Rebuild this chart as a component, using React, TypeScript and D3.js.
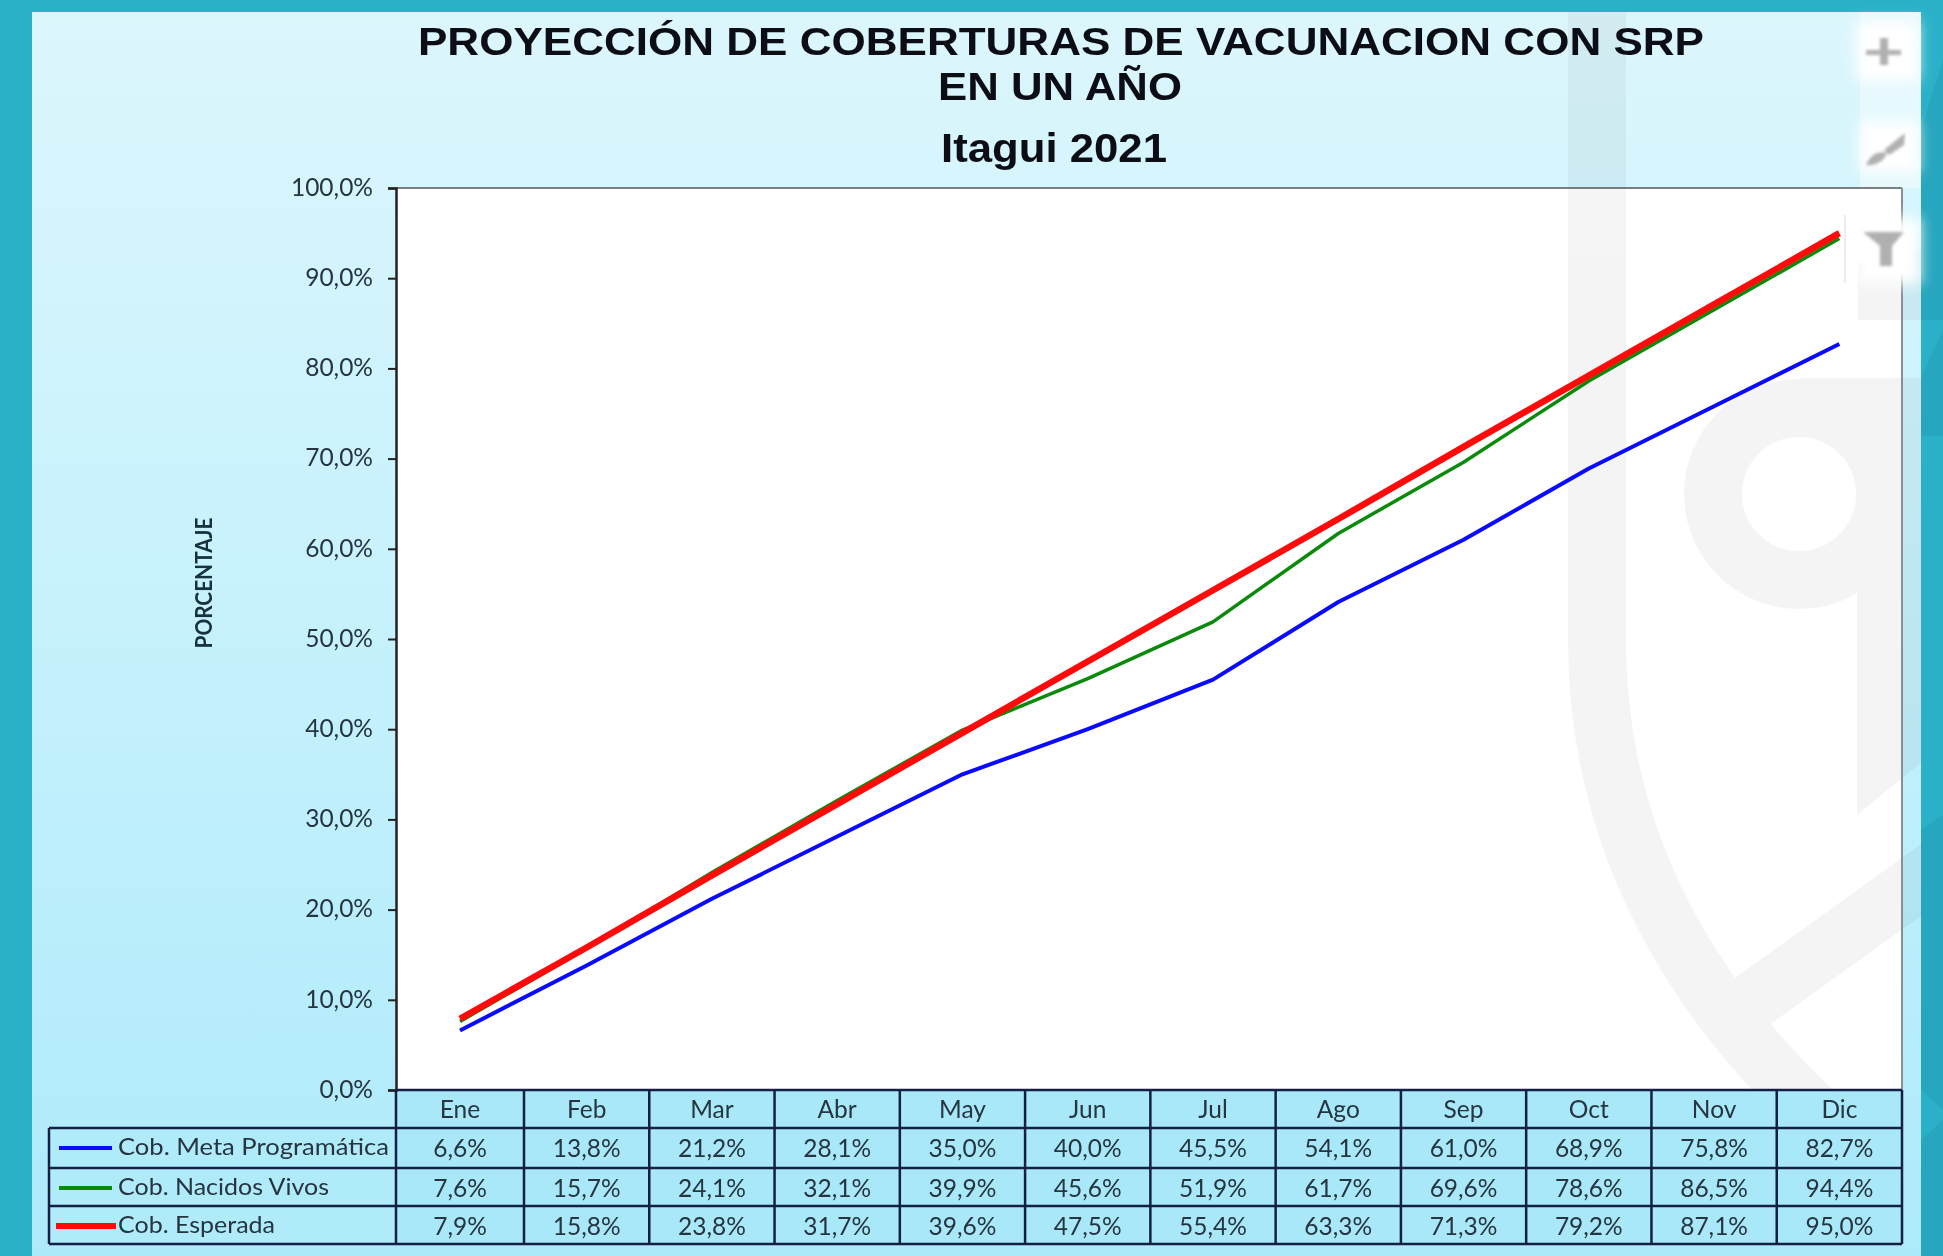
import React, { useEffect, useRef } from "react";
import * as d3 from "d3";

const months = ["Ene", "Feb", "Mar", "Abr", "May", "Jun", "Jul", "Ago", "Sep", "Oct", "Nov", "Dic"];
const yTicks = [0, 10, 20, 30, 40, 50, 60, 70, 80, 90, 100];

const metaProgramatica = [6.6, 13.8, 21.2, 28.1, 35.0, 40.0, 45.5, 54.1, 61.0, 68.9, 75.8, 82.7];
const nacidosVivos = [7.6, 15.7, 24.1, 32.1, 39.9, 45.6, 51.9, 61.7, 69.6, 78.6, 86.5, 94.4];
const esperada = [7.9, 15.8, 23.8, 31.7, 39.6, 47.5, 55.4, 63.3, 71.3, 79.2, 87.1, 95.0];

const seriesNames = ["Cob. Meta Programática", "Cob. Nacidos Vivos", "Cob. Esperada"];
const seriesValues = [metaProgramatica, nacidosVivos, esperada];
const seriesColors = ["#0a0aff", "#0a8a0a", "#ff0a0a"];
const seriesWidths = [4, 3.5, 6.5];
const labelLengths = [271, 211, 157];

const W = 1943;
const H = 1256;
const plot = { left: 396, right: 1902, top: 188, bottom: 1090 };
const rowEdges = [1090, 1128, 1168, 1206, 1244];
const legendLeft = 49;
const FONT = "Lato, 'Open Sans', sans-serif";
const TEXT = "#25343f";
const LINE = "#141f45";

const fmt = (v: number) => v.toFixed(1).replace(".", ",") + "%";

const App = () => {
  const axisRef = useRef<SVGGElement>(null);

  // la primera columna de la tabla es un poco mas ancha que las demas
  const edge = d3.scaleLinear().domain([0, 1, months.length]).range([plot.left, 524, plot.right]);
  const center = (i: number) => (edge(i) + edge(i + 1)) / 2;
  const y = d3.scaleLinear().domain([0, 100]).range([plot.bottom, plot.top]);
  const line = d3
    .line<number>()
    .x((_, i) => center(i))
    .y((d) => y(d));

  useEffect(() => {
    const g = d3.select(axisRef.current);
    g.selectAll("*").remove();
    g.call(
      d3
        .axisLeft(y)
        .tickValues(yTicks)
        .tickSize(8)
        .tickPadding(15)
        .tickFormat((d) => fmt(d as number)) as any
    );
    g.selectAll("text")
      .attr("font-family", FONT)
      .attr("font-size", 24.5)
      .attr("fill", TEXT)
      .attr("dy", "0.3em")
      .attr("filter", "url(#textBlur)");
    g.selectAll("line").attr("stroke", "#222").attr("stroke-width", 2);
    g.select(".domain").attr("stroke", "#222").attr("stroke-width", 2.5);
  }, []);

  return (
    <div style={{ position: "fixed", left: 0, top: 0, width: W, height: H }}>
      <svg width={W} height={H} viewBox={`0 0 ${W} ${H}`} style={{ display: "block" }}>
        <defs>
          <linearGradient id="panelBg" x1="0" y1="0" x2="0" y2="1">
            <stop offset="0" stopColor="#dcf6fc" />
            <stop offset="0.45" stopColor="#c8f2fd" />
            <stop offset="1" stopColor="#aeeafa" />
          </linearGradient>
          <clipPath id="markClip">
            <rect x={32} y={12} width={1889} height={1078} />
          </clipPath>
          <filter id="soft" x="-30%" y="-30%" width="160%" height="160%">
            <feGaussianBlur stdDeviation="7" />
          </filter>
          <filter id="iconBlur">
            <feGaussianBlur stdDeviation="1.6" />
          </filter>
          <filter id="textBlur" x="-5%" y="-20%" width="110%" height="140%">
            <feGaussianBlur stdDeviation="0.55" />
          </filter>
        </defs>

        {/* marco y fondo */}
        <rect width={W} height={H} fill="#2ab1c9" />
        <path d="M1921,378 L1943,330 L1943,436 L1921,436 Z" fill="#26a6bf" />
        <path d="M1921,130 L1943,60 L1943,320 L1921,320 Z" fill="#26a6bf" />
        <path d="M1921,1140 L1943,1120 L1943,1256 L1921,1256 Z" fill="#26a6bf" />
        <path d="M1921,830 L1943,815 L1943,1110 L1921,1090 Z" fill="#26a6bf" />
        <rect x={32} y={12} width={1889} height={1244} fill="url(#panelBg)" />
        <rect x={1860} y={12} width={61} height={176} fill="#f0fbfe" opacity={0.6} />

        {/* area del grafico */}
        <rect
          x={plot.left}
          y={plot.top}
          width={plot.right - plot.left}
          height={plot.bottom - plot.top}
          fill="#ffffff"
        />

        {/* marca de agua */}
        <g opacity={0.04} clipPath="url(#markClip)">
          <g fill="none" stroke="#000">
            <path d="M1597,12 L1597,640 C1597,850 1700,1040 1921,1200" strokeWidth={58} />
            <circle cx={1799} cy={494} r={86} strokeWidth={58} />
          </g>
          <path d="M1799,378 H1921 V763 L1857,815 V440 Z" fill="#000" />
          <path d="M1700,1003 L1921,844 L1921,916 L1740,1046 Z" fill="#000" />
          <path d="M1858,262 L1921,248 L1921,320 L1858,320 Z" fill="#000" />
        </g>

        <rect x={plot.left} y={rowEdges[0]} width={plot.right - plot.left} height={rowEdges[4] - rowEdges[0]} fill="#a8e8f8" />
        <rect x={legendLeft} y={rowEdges[1]} width={plot.left - legendLeft} height={rowEdges[4] - rowEdges[1]} fill="#b0ebfa" />

        {/* borde del area */}
        <line x1={plot.left} x2={plot.right} y1={plot.top} y2={plot.top} stroke="#555" strokeWidth={1.5} />
        <line x1={plot.right} x2={plot.right} y1={plot.top} y2={plot.bottom} stroke="#8a8f94" strokeWidth={2} />

        {/* series */}
        {seriesValues.map((vals, i) => (
          <path
            key={seriesNames[i]}
            d={line(vals) as string}
            fill="none"
            stroke={seriesColors[i]}
            strokeWidth={seriesWidths[i]}
            strokeLinejoin="round"
          />
        ))}

        <g ref={axisRef} transform={`translate(${plot.left},0)`} />

        {/* tabla de datos */}
        <g stroke={LINE} strokeWidth={2.5}>
          {rowEdges.map((ry, i) => (
            <line key={ry} x1={i === 0 ? plot.left : legendLeft} x2={plot.right} y1={ry} y2={ry} />
          ))}
          <line x1={legendLeft} x2={legendLeft} y1={rowEdges[1]} y2={rowEdges[4]} />
          <line x1={plot.left} x2={plot.left} y1={rowEdges[0]} y2={rowEdges[4]} />
          {months.map((m, i) => (
            <line key={m} x1={edge(i + 1)} x2={edge(i + 1)} y1={rowEdges[0]} y2={rowEdges[4]} />
          ))}
        </g>
        <g fontFamily={FONT} fontSize={24.5} fill={TEXT} textAnchor="middle" filter="url(#textBlur)">
          {months.map((m, i) => (
            <text key={m} x={center(i)} y={rowEdges[0] + 28}>
              {m}
            </text>
          ))}
          {seriesValues.map((vals, s) =>
            vals.map((v, i) => (
              <text key={`${s}-${i}`} x={center(i)} y={rowEdges[s + 1] + 28.7}>
                {fmt(v)}
              </text>
            ))
          )}
        </g>
        {seriesNames.map((name, i) => (
          <g key={name}>
            <line
              x1={i === 2 ? 56 : 59}
              x2={i === 2 ? 116 : 112}
              y1={rowEdges[i + 1] + 20}
              y2={rowEdges[i + 1] + 20}
              stroke={seriesColors[i]}
              strokeWidth={i === 2 ? 6 : 4}
            />
            <text
              x={118}
              y={rowEdges[i + 1] + 27}
              fontFamily={FONT}
              fontSize={24}
              fill={TEXT}
              textLength={labelLengths[i]}
              lengthAdjust="spacingAndGlyphs"
              filter="url(#textBlur)"
            >
              {name}
            </text>
          </g>
        ))}

        {/* titulos */}
        <g
          fontFamily="'Liberation Sans', Arial, sans-serif"
          fontWeight="bold"
          fill="#0d1117"
          textAnchor="middle"
          filter="url(#textBlur)"
        >
          <text x={1061} y={55} fontSize={39} textLength={1286} lengthAdjust="spacingAndGlyphs">
            PROYECCIÓN DE COBERTURAS DE VACUNACION CON SRP
          </text>
          <text x={1060} y={100} fontSize={39} textLength={244} lengthAdjust="spacingAndGlyphs">
            EN UN AÑO
          </text>
          <text x={1054} y={162} fontSize={40} textLength={226} lengthAdjust="spacingAndGlyphs">
            Itagui 2021
          </text>
        </g>
        <text
          transform="translate(212,583) rotate(-90)"
          textAnchor="middle"
          fontFamily={FONT}
          fontWeight="bold"
          fontSize={22}
          fill="#17303d"
          textLength={131}
          lengthAdjust="spacingAndGlyphs"
          filter="url(#textBlur)"
        >
          PORCENTAJE
        </text>

        {/* botones de la barra lateral */}
        <g fill="#ffffff" filter="url(#soft)">
          <rect x={1856} y={22} width={62} height={58} />
          <rect x={1860} y={122} width={58} height={50} />
          <rect x={1858} y={218} width={62} height={66} />
        </g>
        <line x1={1845} x2={1845} y1={215} y2={283} stroke="#d5d8da" strokeWidth={1} />
        <g fill="#b0b0b0" filter="url(#iconBlur)">
          <path d="M1880,38 h8 v12 h13 v5 h-13 v10 h-8 v-10 h-14 v-5 h14 Z" />
          <path d="M1866,165 C1870,155 1878,150 1887,153 C1884,162 1874,166 1866,165 Z" />
          <path d="M1884,150 L1905,133 L1904,145 L1889,155 Z" />
          <path d="M1863,232 H1904 L1892,246 V266 H1880 V246 Z" />
        </g>
      </svg>
    </div>
  );
};

export default App;
